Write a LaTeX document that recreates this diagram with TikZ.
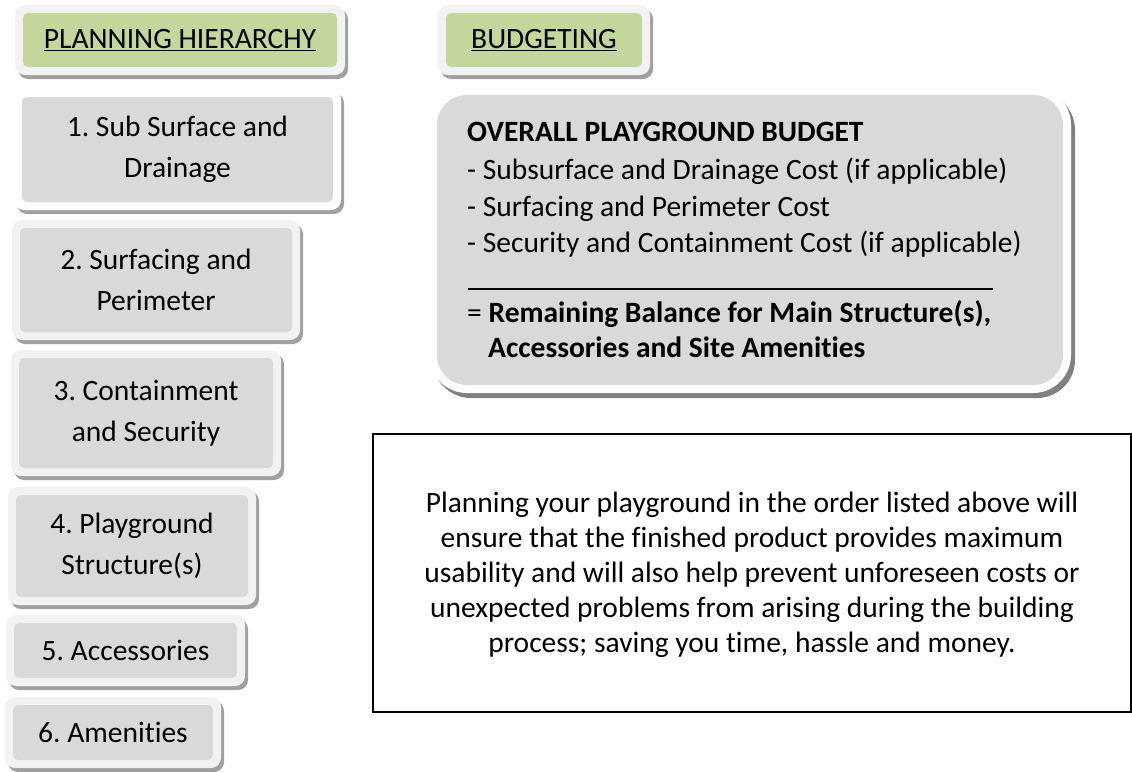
\documentclass[tikz,border=0pt]{standalone}
\usepackage{fontspec}
\setmainfont{Carlito}[Ligatures={NoCommon}]
\usetikzlibrary{shadows}
\frenchspacing
\definecolor{hdrgreen}{HTML}{C3D69B}
\definecolor{stepgray}{HTML}{D9D9D9}
\definecolor{framegray}{HTML}{F2F2F2}
\definecolor{shadowgray}{HTML}{A0A0A0}
\tikzset{
  framebox/.style={rounded corners=10pt, draw=none, inner sep=0pt, outer sep=0pt,
    drop shadow={shadow xshift=3pt, shadow yshift=-4pt, fill=shadowgray, opacity=1}},
  innerbox/.style={rounded corners=5pt, draw=none, inner sep=0pt, outer sep=0pt,
    align=center, font=\fontsize{29.5}{41}\selectfont},
  budgettext/.style={anchor=base west, inner sep=0pt, font=\fontsize{29.5}{36}\selectfont},
  notetext/.style={anchor=base, inner sep=0pt, font=\fontsize{29.5}{36}\selectfont},
}
\newcommand\fbx[8]{%
  \node[framebox, fill=#6, minimum width={#4-#2+16}, minimum height={#5-#3+16}]
    (#1-frame) at ({(#2+#4)/2},{(#3+#5)/2}) {};
  \node[innerbox, fill=#7, minimum width={#4-#2}, minimum height={#5-#3}]
    (#1) at ({(#2+#4)/2},{(#3+#5)/2}) {#8};
}
\begin{document}
\frenchspacing
\begin{tikzpicture}[x=1pt,y=-1pt]
\useasboundingbox (0,0) rectangle (1132,771);
% headers
\fbx{hplan}{23}{13}{337}{67}{framegray}{hdrgreen}{\underline{PLANNING HIERARCHY}}
\fbx{hbudget}{446}{13}{642}{67}{framegray}{hdrgreen}{\underline{BUDGETING}}
% steps
\fbx{s1}{22}{97}{333}{202}{white}{stepgray}{1. Sub Surface and\\Drainage}
\fbx{s2}{20}{228}{292}{332}{framegray}{stepgray}{2. Surfacing and\\Perimeter}
\fbx{s3}{19}{358}{273}{468}{framegray}{stepgray}{3. Containment\\and Security}
\fbx{s4}{16}{495}{248}{597}{framegray}{stepgray}{4. Playground\\Structure(s)}
\fbx{s5}{14}{623}{237}{678}{framegray}{stepgray}{5. Accessories}
\fbx{s6}{13}{705}{213}{760}{framegray}{stepgray}{6. Amenities}
% budget box
\node[framebox, rounded corners=38pt, fill=white, minimum width=642, minimum height=306,
  drop shadow={shadow xshift=4pt, shadow yshift=-5pt, fill=black!50, opacity=1}]
  (budget-frame) at (750,240) {};
\node[innerbox, rounded corners=30pt, fill=stepgray, minimum width=626, minimum height=290]
  (budget) at (750,240) {};
\node[budgettext] (b1) at (467,141) {\textbf{OVERALL PLAYGROUND BUDGET}};
\node[budgettext] (b2) at (467,179) {- Subsurface and Drainage Cost (if applicable)};
\node[budgettext] (b3) at (467,216) {- Surfacing and Perimeter Cost};
\node[budgettext] (b4) at (467,252) {- Security and Containment Cost (if applicable)};
\coordinate (sepL) at (468,289);
\coordinate (sepR) at (993,289);
\draw[line width=2.2pt] (sepL) -- (sepR);
\node[budgettext] (b5) at (467,322) {= \textbf{Remaining Balance for Main Structure(s),}};
\node[budgettext] (b6) at (488,357) {\textbf{Accessories and Site Amenities}};
% note box
\node[draw=black, line width=1.8pt, inner sep=0pt, minimum width=758, minimum height=278]
  (note) at (752,573) {};
\node[notetext] (n1) at (752,512) {Planning your playground in the order listed above will};
\node[notetext] (n2) at (752,547) {ensure that the finished product provides maximum};
\node[notetext] (n3) at (752,582) {usability and will also help prevent unforeseen costs or};
\node[notetext] (n4) at (752,617) {unexpected problems from arising during the building};
\node[notetext] (n5) at (752,652) {process; saving you time, hassle and money.};
\end{tikzpicture}
\end{document}
